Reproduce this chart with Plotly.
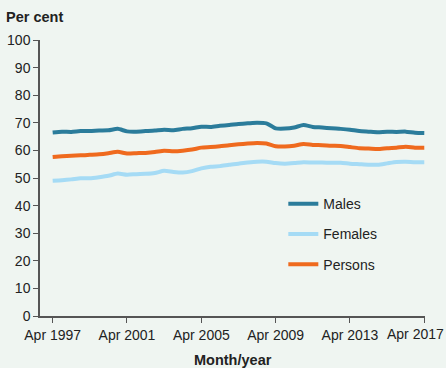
import pandas as pd
import plotly.graph_objects as go

# half-yearly points, Apr 1997 - Apr 2017
months = pd.date_range("1997-04-01", "2017-04-01", freq="6MS")

males = [66.5, 66.8, 66.7, 67.0, 67.0, 67.2, 67.3, 67.8, 66.9, 66.8,
         67.0, 67.2, 67.5, 67.3, 67.8, 68.0, 68.6, 68.5, 68.9, 69.2,
         69.6, 69.8, 70.0, 69.8, 68.0, 67.9, 68.3, 69.2, 68.5, 68.3,
         68.0, 67.8, 67.5, 67.0, 66.8, 66.6, 66.8, 66.7, 66.8, 66.4, 66.3]

females = [49.0, 49.2, 49.5, 49.9, 49.9, 50.3, 50.8, 51.6, 51.2, 51.4,
           51.5, 51.8, 52.6, 52.2, 52.0, 52.5, 53.5, 54.1, 54.3, 54.8,
           55.2, 55.6, 55.9, 55.9, 55.4, 55.2, 55.4, 55.7, 55.6, 55.6,
           55.5, 55.5, 55.2, 55.0, 54.8, 54.8, 55.3, 55.8, 55.9, 55.7, 55.7]

persons = [57.6, 57.9, 58.1, 58.2, 58.4, 58.6, 59.0, 59.5, 58.9, 59.0,
           59.1, 59.4, 59.9, 59.7, 59.9, 60.3, 61.0, 61.2, 61.5, 61.9,
           62.2, 62.5, 62.7, 62.5, 61.5, 61.4, 61.7, 62.3, 62.0, 61.9,
           61.7, 61.6, 61.2, 60.8, 60.7, 60.5, 60.8, 61.0, 61.3, 61.0, 61.0]

tick_dates = ["1997-04-01", "2001-04-01", "2005-04-01", "2009-04-01", "2013-04-01", "2017-04-01"]
tick_text = ["Apr 1997", "Apr 2001", "Apr 2005", "Apr 2009", "Apr 2013", "Apr 2017"]

series = [("Males", males, "#2b7c9b"),
          ("Females", females, "#a5dbf5"),
          ("Persons", persons, "#ef6a1e")]

fig = go.Figure()
for name, vals, col in series:
    fig.add_trace(go.Scatter(x=months, y=vals, name=name, mode="lines",
                             legendgroup=name,
                             line=dict(color=col, width=4, shape="spline", smoothing=0.6)))

bg = "#eff5f1"
font = "Liberation Sans, Arial, sans-serif"

# last tick label is pulled left so it stays inside the page, as in the original
axis_labels = tick_text[:-1] + [""]
annots = [
    dict(text="<b>Per cent</b>", xref="paper", yref="paper", x=-0.094, y=1.085,
         xanchor="left", yanchor="middle", showarrow=False, font=dict(size=14.5)),
    dict(text="<b>Month/year</b>", xref="paper", yref="paper", x=0.5, y=-0.16,
         xanchor="center", yanchor="middle", showarrow=False, font=dict(size=14.5)),
    dict(text=tick_text[-1], xref="paper", yref="paper", x=1.054, y=-0.064,
         xanchor="right", yanchor="middle", showarrow=False, font=dict(size=14)),
]

fig.update_layout(
    width=446, height=368,
    margin=dict(l=40, r=21, t=40, b=52, autoexpand=False),
    paper_bgcolor=bg, plot_bgcolor=bg,
    font=dict(family=font, size=14, color="#222"),
    showlegend=True,
    legend=dict(x=0.632, y=0.463, xanchor="left", yanchor="top",
                bgcolor="rgba(0,0,0,0)", traceorder="grouped",
                tracegroupgap=9, font=dict(size=14)),
    xaxis=dict(range=["1996-07-26", "2017-04-15"], tickvals=tick_dates, ticktext=axis_labels,
               showgrid=False, zeroline=False, showline=True, linecolor="#555", linewidth=1.5,
               ticks="outside", ticklen=5, tickcolor="#555", ticklabeloverflow="allow",
               automargin=False),
    yaxis=dict(range=[0, 100], dtick=10, showgrid=False, zeroline=False,
               showline=True, linecolor="#555", linewidth=1.5,
               ticks="outside", ticklen=5, tickcolor="#555", automargin=False),
    annotations=annots,
)

# page body has an 8px default margin; drop it so the figure fills the window
fig.write_html("out.html", config={"displayModeBar": False},
               post_script="document.body.style.margin='0';")
